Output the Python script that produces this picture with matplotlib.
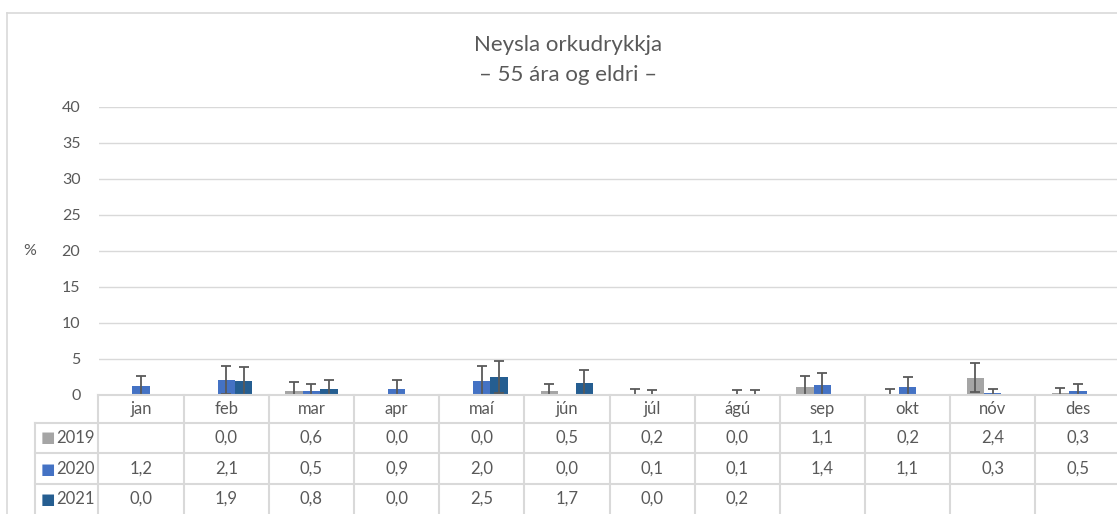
import matplotlib
matplotlib.use('Agg')
from matplotlib import pyplot as plt
from matplotlib import transforms
import numpy as np

months = ['jan', 'feb', 'mar', 'apr', 'maí', 'jún', 'júl', 'ágú', 'sep', 'okt', 'nóv', 'des']
years = ['2019', '2020', '2021']
v2019 = [np.nan, 0.0, 0.6, 0.0, 0.0, 0.5, 0.2, 0.0, 1.1, 0.2, 2.4, 0.3]
v2020 = [1.2, 2.1, 0.5, 0.9, 2.0, 0.0, 0.1, 0.1, 1.4, 1.1, 0.3, 0.5]
v2021 = [0.0, 1.9, 0.8, 0.0, 2.5, 1.7, 0.0, 0.2, np.nan, np.nan, np.nan, np.nan]
# error bar half-widths
e2019 = [0, 0, 1.2, 0, 0, 1.0, 0.6, 0, 1.5, 0.6, 2.0, 0.7]
e2020 = [1.4, 1.9, 1.0, 1.2, 2.0, 0, 0.6, 0.6, 1.7, 1.4, 0.5, 1.0]
e2021 = [0, 2.0, 1.3, 0, 2.2, 1.8, 0, 0.5, 0, 0, 0, 0]
colors = ['#A5A5A5', '#4472C4', '#255E91']

plt.rcParams['font.family'] = ['Lato', 'DejaVu Sans']
txt = '#595959'
grid = '#D9D9D9'

W, H = 1117, 514
fig = plt.figure(figsize=(W / 100, H / 100), dpi=100)
ax = fig.add_axes([98.5 / W, 1 - 395 / H, 1022 / W, 288 / H])

x = np.arange(len(months))
bw = 0.205
for i, (vals, errs) in enumerate(zip([v2019, v2020, v2021], [e2019, e2020, e2021])):
    xs = x + (i - 1) * bw
    ax.bar(xs, vals, bw, color=colors[i], zorder=2)
    vals = np.array(vals)
    errs = np.array(errs, dtype=float)
    m = errs > 0
    ax.errorbar(xs[m], vals[m], yerr=errs[m], fmt='none', ecolor='#595959',
                elinewidth=1.3, capsize=3.4, capthick=1.3, zorder=3)

ax.set_xlim(-0.5, 11.5)
ax.set_ylim(0, 40)
ax.set_yticks(range(0, 41, 5))
ax.yaxis.grid(True, color=grid, linewidth=1)
ax.set_axisbelow(True)
for s in ax.spines.values():
    s.set_visible(False)
ax.tick_params(axis='y', length=0, labelsize=11.5, labelcolor=txt, pad=13)
ax.set_xticks([])

ax.text(-62 / 1022, 20 / 40, '%', transform=ax.transAxes, fontsize=11.5, color=txt,
        ha='right', va='center')

fig.text(568 / W, 1 - 45 / H, 'Neysla orkudrykkja', fontsize=16, color=txt,
         ha='center', va='center')
fig.text(568 / W, 1 - 75 / H, '– 55 ára og eldri –', fontsize=16, color=txt,
         ha='center', va='center')

# data table under the plot
tr = transforms.blended_transform_factory(ax.transData, ax.transAxes)
def fy(px):
    return (395 - px) / 288

def fx(px):
    return ax.get_xlim()[0] + (px - 98.5) / 1022 * 12

lw = 1.5
ax.plot([-0.5, 11.6], [0, 0], color=grid, lw=lw, transform=tr, clip_on=False, zorder=4)
for yy in [423, 453, 484]:
    ax.plot([fx(35), 11.6], [fy(yy), fy(yy)], color=grid, lw=lw, transform=tr, clip_on=False)
for b in np.arange(-0.5, 12, 1):
    ax.plot([b, b], [0, fy(520)], color=grid, lw=lw, transform=tr, clip_on=False)
ax.plot([fx(35), fx(35)], [fy(423), fy(520)], color=grid, lw=lw, transform=tr, clip_on=False)

for i, mth in enumerate(months):
    ax.text(i, fy(409), mth, transform=tr, ha='center', va='center', fontsize=12, color=txt)

row_y = [438, 469, 499]
for r, vals in enumerate([v2019, v2020, v2021]):
    for i, v in enumerate(vals):
        if not np.isnan(v):
            ax.text(i, fy(row_y[r]), f'{v:.1f}'.replace('.', ','), transform=tr,
                    ha='center', va='center', fontsize=12, color=txt)
    ax.text(fx(41), fy(row_y[r]), '■', transform=tr, ha='left', va='center',
            fontsize=11, color=colors[r], family='DejaVu Sans')
    ax.text(fx(56), fy(row_y[r]), years[r], transform=tr, ha='left', va='center',
            fontsize=12, color=txt)

# chart border
fig.add_artist(plt.Line2D([7 / W, 7 / W], [0, 1 - 13 / H], color=grid, lw=1.2))
fig.add_artist(plt.Line2D([7 / W, 1], [1 - 13 / H, 1 - 13 / H], color=grid, lw=1.2))

fig.savefig('out.png', dpi=100)
